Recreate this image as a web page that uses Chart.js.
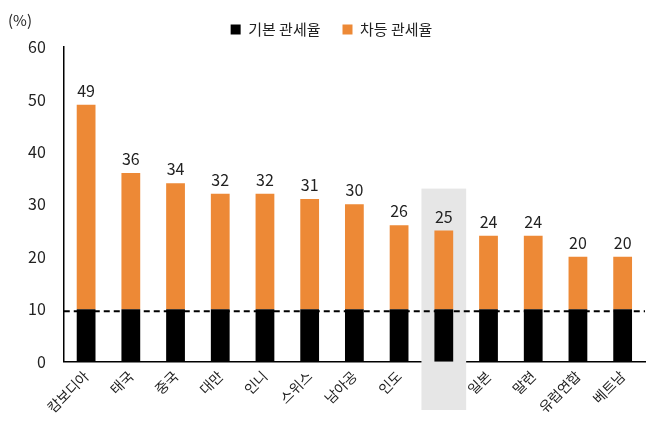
<!DOCTYPE html>
<html>
<head>
<meta charset="utf-8">
<script src="https://cdn.jsdelivr.net/npm/chart.js@4"></script>
<style>
  body { margin: 0; background: #fff; }
  #wrap { width: 653px; height: 432px; position: relative; }
</style>
</head>
<body>
<div id="wrap"><canvas id="tariffChart"></canvas></div>
<script>
const categories = ['캄보디아', '태국', '중국', '대만', '인니', '스위스', '남아공', '인도', '한국', '일본', '말련', '유럽연합', '베트남'];
const totalRates = [49, 36, 34, 32, 32, 31, 30, 26, 25, 24, 24, 20, 20];
const baseRates = [10, 10, 10, 10, 10, 10, 10, 10, 10, 10, 10, 10, 10];
const extraRates = totalRates.map((t, i) => t - baseRates[i]);
const highlightIndex = 8;

const FONT = "'Noto Sans CJK KR', 'Noto Sans', sans-serif";

// gray box behind 한국, dashed 10% line, total labels
const extras = {
  id: 'extras',
  beforeDatasetsDraw(chart) {
    const { ctx, scales: { x, y } } = chart;
    const w = x.getPixelForValue(1) - x.getPixelForValue(0);
    const cx = x.getPixelForValue(highlightIndex);
    ctx.save();
    ctx.fillStyle = '#e6e6e6';
    const top = y.getPixelForValue(33);
    ctx.fillRect(cx - w * 0.5, top, w, 410 - top);
    ctx.restore();
  },
  afterDatasetsDraw(chart) {
    const { ctx, scales: { x, y } } = chart;
    ctx.save();
    ctx.strokeStyle = '#000';
    ctx.lineWidth = 2;
    ctx.setLineDash([6, 4]);
    const ly = y.getPixelForValue(9.6);
    ctx.beginPath();
    ctx.moveTo(x.left, ly);
    ctx.lineTo(x.right, ly);
    ctx.stroke();
    ctx.setLineDash([]);
    ctx.fillStyle = '#222';
    ctx.font = '16px ' + FONT;
    ctx.textAlign = 'center';
    ctx.textBaseline = 'bottom';
    totalRates.forEach((v, i) => {
      ctx.fillText(String(v), x.getPixelForValue(i), y.getPixelForValue(v) - 6);
    });
    ctx.font = '15px ' + FONT;
    ctx.textAlign = 'left';
    ctx.textBaseline = 'middle';
    ctx.fillText('(%)', 8, 20);
    ctx.restore();
  }
};

new Chart(document.getElementById('tariffChart'), {
  type: 'bar',
  data: {
    labels: categories,
    datasets: [
      { label: '기본 관세율', data: baseRates, backgroundColor: '#000000', barPercentage: 0.42, categoryPercentage: 1 },
      { label: '차등 관세율', data: extraRates, backgroundColor: '#ed8936', barPercentage: 0.42, categoryPercentage: 1 }
    ]
  },
  options: {
    responsive: true,
    maintainAspectRatio: false,
    animation: false,
    layout: { padding: { left: 18, right: 8, top: 0, bottom: 10 } },
    plugins: {
      legend: {
        position: 'top',
        labels: { font: { family: FONT, size: 15 }, color: '#222', boxWidth: 10, boxHeight: 10, padding: 22 }
      },
      tooltip: { enabled: false }
    },
    scales: {
      x: {
        stacked: true,
        grid: { display: false, drawTicks: false },
        border: { color: '#000', width: 1.5 },
        ticks: { autoSkip: false, font: { family: FONT, size: 14 }, color: '#222', maxRotation: 45, minRotation: 45, padding: 6 }
      },
      y: {
        stacked: true,
        min: 0, max: 60,
        grid: { display: false },
        border: { color: '#000', width: 1.5 },
        ticks: { stepSize: 10, font: { family: FONT, size: 16 }, color: '#222', padding: 10 }
      }
    }
  },
  plugins: [extras]
});
</script>
</body>
</html>
